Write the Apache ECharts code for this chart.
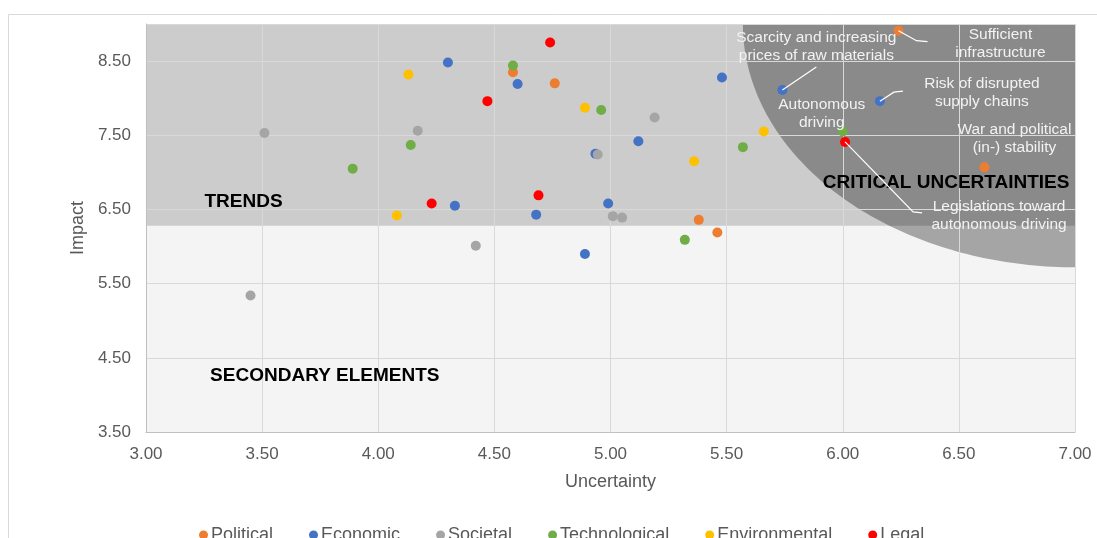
<!DOCTYPE html>
<html>
<head>
<meta charset="utf-8">
<script src="https://cdn.jsdelivr.net/npm/echarts@6/dist/echarts.min.js"></script>
<style>
  html, body { margin: 0; padding: 0; background: #ffffff; }
  #chart { width: 1097px; height: 538px; }
</style>
</head>
<body>
<div id="chart"></div>
<script>
// ---- data: [uncertainty, impact] per driver, grouped by category ----
const categories = ['Political', 'Economic', 'Societal', 'Technological', 'Environmental', 'Legal'];

const political = [[4.58, 8.35], [4.76, 8.20], [5.38, 6.36], [5.46, 6.19], [6.24, 8.91], [6.61, 7.07]];
const economic = [[4.30, 8.48], [4.60, 8.19], [5.48, 8.28], [5.74, 8.11], [6.16, 7.96], [5.12, 7.42],
                  [4.935, 7.25], [4.99, 6.58], [4.33, 6.55], [4.68, 6.43], [4.89, 5.90]];
const societal = [[3.51, 7.53], [3.45, 5.34], [4.17, 7.56], [4.42, 6.01], [5.19, 7.74], [4.945, 7.24],
                  [5.01, 6.41], [5.05, 6.39]];
const technological = [[4.58, 8.44], [4.14, 7.37], [3.89, 7.05], [4.96, 7.84], [5.57, 7.34], [5.32, 6.09], [6.00, 7.55]];
const environmental = [[4.13, 8.32], [4.89, 7.87], [5.66, 7.55], [5.36, 7.15], [4.08, 6.42]];
const legal = [[4.74, 8.75], [4.47, 7.96], [4.69, 6.69], [4.23, 6.58], [6.01, 7.41]];

const seriesValues = [political, economic, societal, technological, environmental, legal];

// axis ranges and tick steps
const xMin = 3.0, xMax = 7.0, xStep = 0.5;
const yMin = 3.5, yMax = 9.0, yStep = 1.0;

// named drivers
const callouts = [
  { category: 'Political', index: 4, text: 'Sufficient\ninfrastructure' },
  { category: 'Economic', index: 3, text: 'Scarcity and increasing\nprices of raw materials' },
  { category: 'Technological', index: 6, text: 'Autonomous\ndriving' },
  { category: 'Economic', index: 4, text: 'Risk of disrupted\nsupply chains' },
  { category: 'Political', index: 5, text: 'War and political\n(in-) stability' },
  { category: 'Legal', index: 4, text: 'Legislations toward\nautonomous driving' }
];

// quadrant names
const zoneNames = ['TRENDS', 'SECONDARY ELEMENTS', 'CRITICAL UNCERTAINTIES'];
const zoneAnchors = [[3.42, 6.60], [3.77, 4.26], [6.445, 6.86]];

// impact level above which drivers count as trends
const trendFloor = 6.28;
// critical-uncertainty region: quarter ellipse around the top-right corner
const criticalZone = { cx: 7.0, cy: 9.0, rx: 1.43, ry: 3.28 };

// ---- styling ----
const FONT = '"Liberation Sans", Arial, sans-serif';
const palette = ['#ed7d31', '#4472c4', '#a5a5a5', '#70ad47', '#ffc000', '#ff0000'];

// label offsets (px) from each named point, plus leader-line bends
const calloutLayout = [
  { text: [102, 13], leader: [[18, 10], [29, 11]] },
  { text: [34, -43], leader: [[34, -23]] },
  { text: [-21, -18] },
  { text: [102, -8], leader: [[14, -9], [23, -10]] },
  { text: [30, -28] },
  { text: [154, 74], leader: [[68, 70], [77, 71]] }
];

const chart = echarts.init(document.getElementById('chart'), null, { renderer: 'canvas' });

const scatterSeries = categories.map((name, i) => ({
  name: name,
  type: 'scatter',
  z: 5,
  symbol: 'circle',
  symbolSize: 10,
  itemStyle: { color: palette[i], opacity: 1 },
  emphasis: { disabled: true },
  data: seriesValues[i]
}));

const calloutData = callouts.map(c => {
  const p = seriesValues[categories.indexOf(c.category)][c.index];
  return [p[0], p[1]];
});

const option = {
  animation: false,
  backgroundColor: '#ffffff',
  graphic: [{
    type: 'rect',
    silent: true,
    shape: { x: 8.5, y: 14.5, width: 1200, height: 700 },
    style: { fill: 'none', stroke: '#d9d9d9', lineWidth: 1 }
  }],
  grid: {
    left: 146, right: 22, top: 24, bottom: 106,
    show: true, backgroundColor: '#f4f4f4', borderWidth: 0
  },
  legend: {
    data: categories,
    top: 521, left: 194,
    icon: 'circle',
    itemWidth: 9, itemHeight: 9,
    itemGap: 36,
    textStyle: { fontFamily: FONT, fontSize: 18, color: '#595959', padding: [0, 0, 0, -2] }
  },
  xAxis: {
    type: 'value',
    z: 3,
    min: xMin, max: xMax, interval: xStep,
    name: 'Uncertainty',
    nameLocation: 'middle',
    nameGap: 41,
    nameTextStyle: { fontFamily: FONT, fontSize: 18, color: '#595959' },
    axisLine: { show: true, lineStyle: { color: '#bfbfbf', width: 1 } },
    axisTick: { show: false },
    axisLabel: { fontFamily: FONT, fontSize: 17, color: '#595959', margin: 14,
                 formatter: v => v.toFixed(2) },
    splitLine: { show: true, lineStyle: { color: '#d9d9d9', width: 1 } }
  },
  yAxis: {
    type: 'value',
    z: 3,
    min: yMin, max: yMax, interval: yStep,
    name: 'Impact',
    nameLocation: 'middle',
    nameGap: 54,
    nameTextStyle: { fontFamily: FONT, fontSize: 18, color: '#595959' },
    axisLine: { show: true, lineStyle: { color: '#bfbfbf', width: 1 } },
    axisTick: { show: false },
    axisLabel: { fontFamily: FONT, fontSize: 17, color: '#595959', margin: 15,
                 formatter: v => (v >= yMax ? '' : v.toFixed(2)) },
    splitLine: { show: true, lineStyle: { color: '#d9d9d9', width: 1 } }
  },
  series: [
    {
      // upper band: trends
      type: 'custom',
      z: 1,
      silent: true,
      data: [[xMin, yMax]],
      renderItem: (params, api) => {
        const a = api.coord([xMin, yMax]);
        const b = api.coord([xMax, trendFloor]);
        return {
          type: 'rect',
          shape: { x: a[0], y: a[1], width: b[0] - a[0], height: b[1] - a[1] },
          style: { fill: '#cccccc' }
        };
      }
    },
    {
      // quarter ellipse: critical uncertainties
      type: 'custom',
      z: 2,
      silent: true,
      data: [[criticalZone.cx, criticalZone.cy]],
      renderItem: (params, api) => {
        const z = criticalZone;
        const pts = [];
        for (let i = 0; i <= 90; i++) {
          const t = i * Math.PI / 180;
          pts.push(api.coord([z.cx - z.rx * Math.cos(t), z.cy - z.ry * Math.sin(t)]));
        }
        pts.push(api.coord([z.cx, z.cy]));
        return { type: 'polygon', shape: { points: pts }, style: { fill: 'rgba(0,0,0,0.32)' } };
      }
    },
    ...scatterSeries,
    {
      // quadrant titles
      type: 'custom',
      z: 6,
      silent: true,
      data: zoneAnchors,
      renderItem: (params, api) => {
        const p = api.coord([api.value(0), api.value(1)]);
        return {
          type: 'text',
          style: {
            text: zoneNames[params.dataIndex],
            x: p[0], y: p[1],
            align: 'center', verticalAlign: 'middle',
            fill: '#000000',
            font: 'bold 19px ' + FONT
          }
        };
      }
    },
    {
      // driver names with leader lines
      type: 'custom',
      z: 7,
      silent: true,
      data: calloutData,
      renderItem: (params, api) => {
        const p = api.coord([api.value(0), api.value(1)]);
        const lay = calloutLayout[params.dataIndex];
        const children = [];
        if (lay.leader) {
          const pts = [p].concat(lay.leader.map(d => [p[0] + d[0], p[1] + d[1]]));
          children.push({
            type: 'polyline',
            shape: { points: pts },
            style: { stroke: '#ffffff', lineWidth: 1.2, fill: 'none' }
          });
        }
        children.push({
          type: 'text',
          style: {
            text: callouts[params.dataIndex].text,
            x: p[0] + lay.text[0], y: p[1] + lay.text[1],
            align: 'center', verticalAlign: 'middle',
            fill: '#f2f2f2',
            font: '15.5px ' + FONT,
            lineHeight: 18
          }
        });
        return { type: 'group', children: children };
      }
    }
  ]
};

chart.setOption(option);
</script>
</body>
</html>
